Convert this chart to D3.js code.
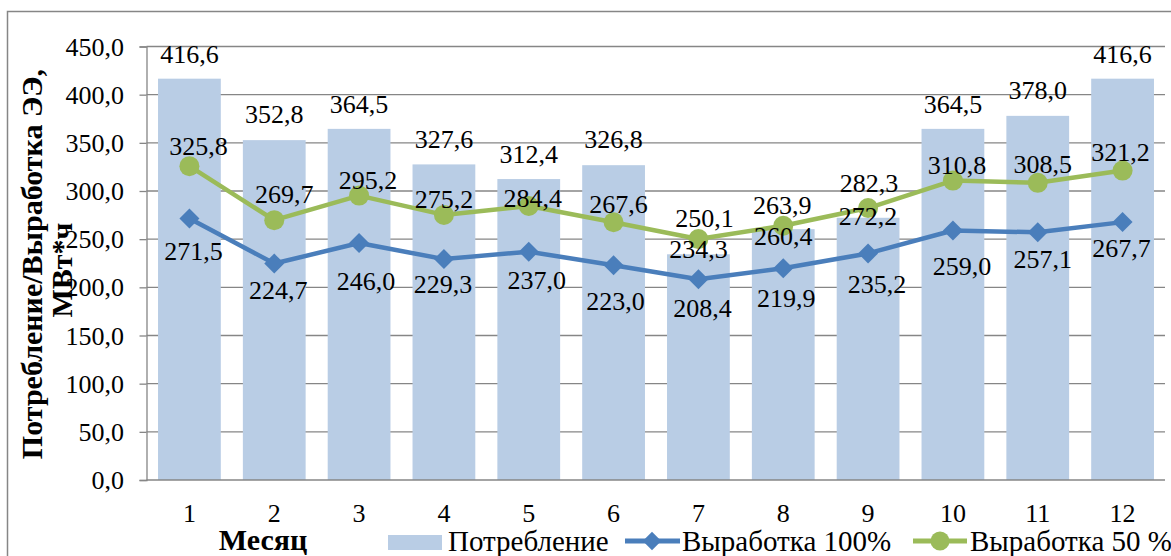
<!DOCTYPE html>
<html>
<head>
<meta charset="utf-8">
<script src="https://cdn.jsdelivr.net/npm/d3@7/dist/d3.min.js"></script>
<style>
  html, body { margin: 0; padding: 0; background: #ffffff; }
  svg { display: block; font-family: "Liberation Serif", "Times New Roman", serif; }
  text { font-family: "Liberation Serif", "Times New Roman", serif; fill: #000; }
</style>
</head>
<body>
<svg id="chart" width="1171" height="556" font-family="Liberation Serif, serif"></svg>
<script>
// ---- data ----
const months = ["1","2","3","4","5","6","7","8","9","10","11","12"];
const consumption = [416.6, 352.8, 364.5, 327.6, 312.4, 326.8, 234.3, 260.4, 272.2, 364.5, 378.0, 416.6];
const output100 = [271.5, 224.7, 246.0, 229.3, 237.0, 223.0, 208.4, 219.9, 235.2, 259.0, 257.1, 267.7];
const output50 = [325.8, 269.7, 295.2, 275.2, 284.4, 267.6, 250.1, 263.9, 282.3, 310.8, 308.5, 321.2];
const yTicks = [0, 50, 100, 150, 200, 250, 300, 350, 400, 450];
const seriesNames = ["Потребление", "Выработка 100%", "Выработка 50 %"];
const xTitle = "Месяц";
const yTitleLines = ["Потребление/Выработка ЭЭ,", "МВт*ч"];

// label nudges (layout only)
const barLabelDy = [-16, -17, -16, -16, -16, -17, 4, 16, 7, -16, -17, -16];
const blueLabelDx = [4, 4, 7, -1, 8, 2, 4, 3, 9, 9, 5, -1];
const blueLabelDy = [42, 35, 47, 34, 37, 45, 38, 39, 40, 45, 36, 35];
const greenLabelDx = [9, 10, 9, 0, 4, 5, 6, -1, 1, 4, 5, -2];
const greenLabelDy = [-11, -17, -7, -7, 1, -9, -12, -12, -16, -7, -10, -10];

const fmt = v => v.toFixed(1).replace(".", ",");

const C = {
  bar: "#B9CDE5",
  blue: "#4A7EBB",
  green: "#9BBB59",
  grid: "#868686",
  border: "#868686"
};

const svg = d3.select("#chart");

// outer frame
svg.append("rect")
  .attr("x", 7.5).attr("y", 11.5)
  .attr("width", 1180).attr("height", 560)
  .attr("fill", "none").attr("stroke", C.border).attr("stroke-width", 1.5);

const plot = { left: 147, right: 1165, top: 46.5, bottom: 480 };

const x = d3.scaleBand().domain(months).range([plot.left, plot.right])
  .paddingInner(0.26).paddingOuter(0.13);
const y = d3.scaleLinear().domain([0, 450]).range([plot.bottom, plot.top]);

// gridlines
svg.append("g").selectAll("line").data(yTicks.filter(t => t > 0)).join("line")
  .attr("x1", plot.left - 0.5).attr("x2", plot.right)
  .attr("y1", d => y(d)).attr("y2", d => y(d))
  .attr("stroke", C.grid).attr("stroke-width", 1.3);

// y axis
const yAxis = d3.axisLeft(y).tickValues(yTicks).tickSize(7).tickFormat("");
const gy = svg.append("g").attr("transform", `translate(${plot.left - 0.5},0)`).call(yAxis);
gy.select(".domain").attr("stroke", C.grid).attr("stroke-width", 1.3);
gy.selectAll(".tick line").attr("stroke", C.grid).attr("stroke-width", 1.3);

svg.append("g").selectAll("text").data(yTicks).join("text")
  .attr("x", 124).attr("y", d => y(d) + 9)
  .attr("text-anchor", "end")
  .attr("font-size", 26)
  .text(d => fmt(d));

// bars
svg.append("g").selectAll("rect").data(consumption).join("rect")
  .attr("x", (d, i) => x(months[i]))
  .attr("width", x.bandwidth())
  .attr("y", d => y(d))
  .attr("height", d => y(0) - y(d))
  .attr("fill", C.bar);

// x axis
const xAxis = d3.axisBottom(x).tickSize(0).tickFormat("");
const gx = svg.append("g").attr("transform", `translate(0,${plot.bottom})`).call(xAxis);
gx.select(".domain").attr("stroke", C.grid).attr("stroke-width", 1.3)
  .attr("d", `M${plot.left - 0.5},0H${plot.right}`);

svg.append("g").selectAll("text").data(months).join("text")
  .attr("x", d => x(d) + x.bandwidth() / 2)
  .attr("y", 522)
  .attr("text-anchor", "middle")
  .attr("font-size", 26)
  .text(d => d);

// lines
const cx = i => x(months[i]) + x.bandwidth() / 2;
const line = d3.line().x((d, i) => cx(i)).y(d => y(d));

svg.append("path").datum(output50)
  .attr("d", line).attr("fill", "none")
  .attr("stroke", C.green).attr("stroke-width", 4.5).attr("stroke-linejoin", "round");
svg.append("path").datum(output100)
  .attr("d", line).attr("fill", "none")
  .attr("stroke", C.blue).attr("stroke-width", 4.5).attr("stroke-linejoin", "round");

const diamond = d3.symbol().type(d3.symbolSquare).size(200);

svg.append("g").selectAll("path").data(output100).join("path")
  .attr("d", diamond)
  .attr("transform", (d, i) => `translate(${cx(i)},${y(d)}) rotate(45)`)
  .attr("fill", C.blue);

svg.append("g").selectAll("circle").data(output50).join("circle")
  .attr("cx", (d, i) => cx(i)).attr("cy", d => y(d)).attr("r", 10)
  .attr("fill", C.green);

// data labels
svg.append("g").selectAll("text").data(consumption).join("text")
  .attr("x", (d, i) => cx(i))
  .attr("y", (d, i) => y(d) + barLabelDy[i])
  .attr("text-anchor", "middle").attr("font-size", 26)
  .text(d => fmt(d));

svg.append("g").selectAll("text").data(output100).join("text")
  .attr("x", (d, i) => cx(i) + blueLabelDx[i])
  .attr("y", (d, i) => y(d) + blueLabelDy[i])
  .attr("text-anchor", "middle").attr("font-size", 26)
  .text(d => fmt(d));

svg.append("g").selectAll("text").data(output50).join("text")
  .attr("x", (d, i) => cx(i) + greenLabelDx[i])
  .attr("y", (d, i) => y(d) + greenLabelDy[i])
  .attr("text-anchor", "middle").attr("font-size", 26)
  .text(d => fmt(d));

// axis titles
svg.append("text")
  .attr("x", 263).attr("y", 550)
  .attr("text-anchor", "middle").attr("font-size", 30).attr("font-weight", "bold")
  .text(xTitle);

svg.append("text")
  .attr("transform", "translate(42,264) rotate(-90)")
  .attr("text-anchor", "middle").attr("font-size", 30).attr("font-weight", "bold")
  .text(yTitleLines[0]);
svg.append("text")
  .attr("transform", "translate(72,270) rotate(-90)")
  .attr("text-anchor", "middle").attr("font-size", 30).attr("font-weight", "bold")
  .text(yTitleLines[1]);

// legend
const lg = svg.append("g");
lg.append("rect").attr("x", 388).attr("y", 535).attr("width", 54).attr("height", 15).attr("fill", C.bar);
lg.append("text").attr("x", 448).attr("y", 551).attr("font-size", 29).text(seriesNames[0]);

lg.append("line").attr("x1", 625).attr("x2", 680).attr("y1", 541).attr("y2", 541)
  .attr("stroke", C.blue).attr("stroke-width", 5);
lg.append("path").attr("d", d3.symbol().type(d3.symbolSquare).size(170))
  .attr("transform", "translate(652,541) rotate(45)").attr("fill", C.blue);
lg.append("text").attr("x", 682).attr("y", 551).attr("font-size", 29).text(seriesNames[1]);

lg.append("line").attr("x1", 913).attr("x2", 967).attr("y1", 541).attr("y2", 541)
  .attr("stroke", C.green).attr("stroke-width", 5);
lg.append("circle").attr("cx", 940).attr("cy", 541).attr("r", 9.5).attr("fill", C.green);
lg.append("text").attr("x", 970).attr("y", 551).attr("font-size", 29).text(seriesNames[2]);
</script>
</body>
</html>
